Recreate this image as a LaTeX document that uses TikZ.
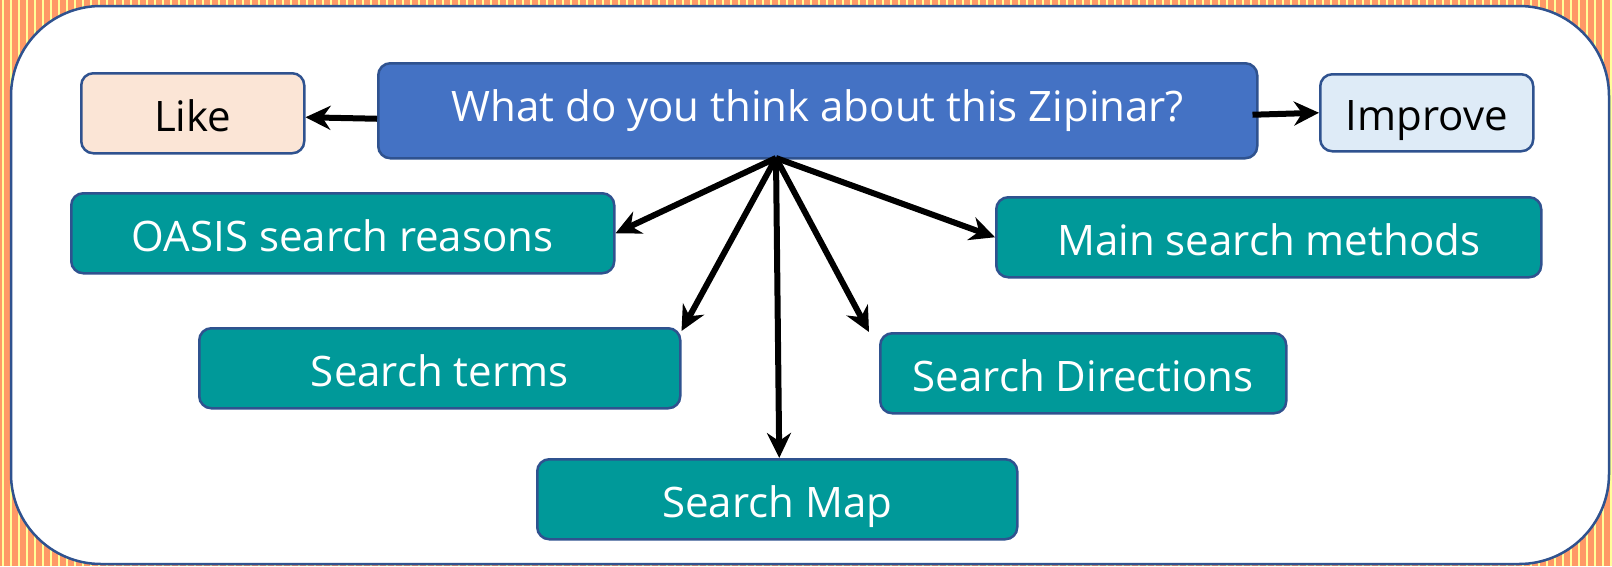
\documentclass[tikz,border=0pt]{standalone}
\usepackage{fontspec}
\setmainfont{Open Sans}
\usetikzlibrary{positioning,arrows.meta}

\definecolor{peach}{RGB}{255,153,102}
\definecolor{paleyellow}{RGB}{255,255,153}
\definecolor{rim}{RGB}{47,82,143}
\definecolor{topblue}{RGB}{68,114,196}
\definecolor{tealbox}{RGB}{0,153,153}
\definecolor{likefill}{RGB}{251,229,214}
\definecolor{improvefill}{RGB}{222,235,247}

\tikzset{
  box/.style={draw=rim, line width=2.5pt, rounded corners=12pt, inner sep=0pt,
    text height=38pt, text depth=2pt,
    anchor=north west, font=\fontsize{42}{48}\selectfont},
  topic/.style={box, fill=tealbox, text=white},
  arr/.style={-{Stealth[length=25pt,width=24pt]}, line width=6pt, black},
}

\begin{document}
\begin{tikzpicture}[x=1pt,y=-1pt]
  \useasboundingbox (0,0) rectangle (1612,566);

  % striped backdrop and white frame
  \fill[peach] (0,0) rectangle (1612,566);
  \foreach \x in {3,11,...,1611}
    \draw[paleyellow, line width=2.5pt] (\x,0) -- (\x,566);
  \draw[rim, line width=2.5pt, fill=white, rounded corners=90pt] (11,6) rectangle (1609,564);

  % question row
  \node[box, fill=topblue, text=white, text height=23pt, minimum width=879pt, minimum height=95pt] (main) at (377,62) {What do you think about this Zipinar?};
  \node[box, fill=likefill, minimum width=223pt, minimum height=80pt] (like) at (80,72) {Like};
  \node[box, fill=improvefill, minimum width=213pt, minimum height=77pt] (improve) at (1319,73) {Improve};

  % topics
  \node[topic, minimum width=543pt, minimum height=80pt] (oasis) at (70,192) {OASIS search reasons};
  \node[topic, minimum width=545pt, minimum height=80pt] (methods) at (995,196) {Main search methods};
  \node[topic, minimum width=481pt, minimum height=80pt] (terms) at (198,327) {Search terms};
  \node[topic, minimum width=406pt, minimum height=80pt] (dirs) at (879,332) {Search Directions};
  \node[topic, minimum width=480pt, minimum height=80pt] (map) at (536,458) {Search Map};

  \coordinate (hub) at (776,158);

  %main>like, main>improve
  \draw[arr] ([yshift=-8pt]main.west) -- ([yshift=-4pt]like.east);
  \draw[arr] ([xshift=-6pt,yshift=-4pt]main.east) -- (improve.west);

  %hub>topics
  \draw[arr] (hub) -- (oasis.east);
  \draw[arr] (hub) -- ([yshift=-4pt]terms.north east);
  \draw[arr] (hub) -- ([xshift=2pt]map.north);
  \draw[arr] (hub) -- ([xshift=-10pt]dirs.north west);
  \draw[arr] (hub) -- (methods.west);
\end{tikzpicture}
\end{document}
